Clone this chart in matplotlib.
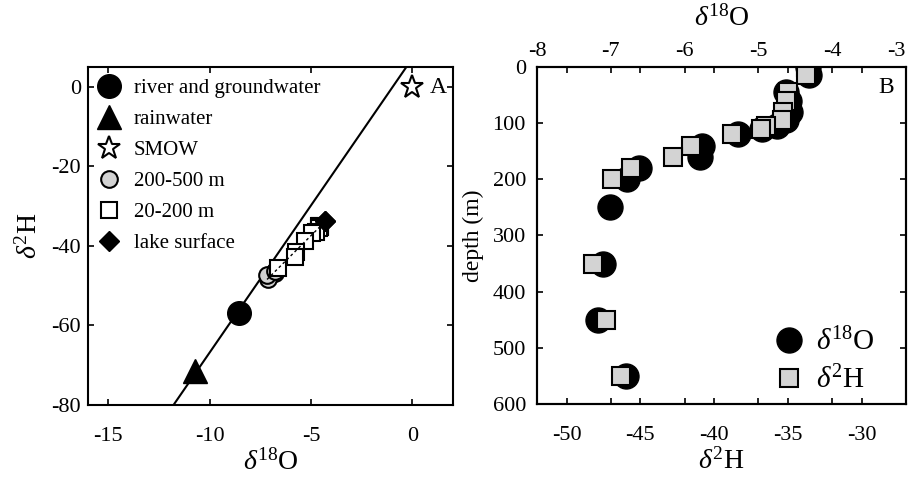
import numpy as np
import matplotlib
matplotlib.use("Agg")
import matplotlib.pyplot as plt
from matplotlib.lines import Line2D

plt.rcParams['font.family'] = ['Liberation Serif', 'DejaVu Serif']
plt.rcParams['mathtext.fontset'] = 'custom'
plt.rcParams['mathtext.rm'] = 'Liberation Serif'
plt.rcParams['mathtext.it'] = 'Liberation Serif:italic'
plt.rcParams['axes.unicode_minus'] = False

# lake profile (depth in m, isotopes in permil)
depth = [0, 15, 45, 60, 80, 95, 105, 110, 120, 140, 160, 180, 200, 250, 350, 450, 550]
d18O = [-4.33, -4.32, -4.62, -4.58, -4.57, -4.62, -4.75, -4.95, -5.28, -5.76, -5.79,
        -6.62, -6.78, -7.01, -7.10, -7.17, -6.79]
d2H = [-33.8, -33.8, -35.0, -35.1, -35.3, -35.4, -36.5, -36.8, -38.8, -41.6, -42.8,
       -45.6, -46.9, np.nan, -48.2, -47.3, -46.3]

# other waters
river_d18O, river_d2H = [-8.56], [-56.8]
rain_d18O, rain_d2H = [-10.7], [-71.4]
smow_d18O, smow_d2H = [0.0], [0.0]

# meteoric water line
lmwl_slope, lmwl_icpt = 7.4, 7.2

depth = np.array(depth)
d18O = np.array(d18O)
d2H = np.array(d2H)

fig = plt.figure(figsize=(9.11, 4.84), dpi=100)
ax1 = fig.add_axes([0.0966, 0.1632, 0.4006, 0.6984])
ax = fig.add_axes([0.5895, 0.1653, 0.4050, 0.6963])

# ---------- panel A ----------
xl = np.array([-16, 2])
ax1.plot(xl, lmwl_slope * xl + lmwl_icpt, 'k-', lw=1.5, zorder=1)

surf = depth < 20
mid = (depth >= 20) & (depth < 200)
deep = depth >= 200

ax1.plot(river_d18O, river_d2H, 'o', color='k', ms=17, label='river and groundwater')
ax1.plot(rain_d18O, rain_d2H, '^', color='k', ms=17, label='rainwater')
ax1.plot(smow_d18O, smow_d2H, '*', mfc='w', mec='k', mew=1.5, ms=17, label='SMOW')
ax1.plot(d18O[deep], d2H[deep], 'o', mfc='#d3d3d3', mec='k', mew=1.5, ms=12, label='200-500 m')
ax1.plot(d18O[mid], d2H[mid], 's', mfc='w', mec='k', mew=1.5, ms=11, label='20-200 m')
ax1.plot(d18O[surf], d2H[surf], 'D', color='k', ms=10, label='lake surface')

ok = ~np.isnan(d2H)
p = np.polyfit(d18O[ok], d2H[ok], 1)
xf = np.array([d18O[ok].min(), d18O[ok].max()])
ax1.plot(xf, np.polyval(p, xf), color='k', ls=(0, (2, 2)), lw=1, zorder=5)

ax1.set_xlim(-16, 2)
ax1.set_ylim(-80, 5)
ax1.set_xticks([-15, -10, -5, 0])
ax1.set_yticks([-80, -60, -40, -20, 0])
ax1.set_xlabel(r'$\delta^{\mathrm{18}}\mathrm{O}$', fontsize=20, labelpad=2)
ax1.set_ylabel(r'$\delta^{\mathrm{2}}\mathrm{H}$', fontsize=20, labelpad=6)
ax1.text(0.959, 0.94, 'A', transform=ax1.transAxes, fontsize=17, ha='center', va='center')
ax1.legend(loc='upper left', bbox_to_anchor=(0.0, 0.99), frameon=False, fontsize=15,
           handletextpad=0.6, labelspacing=0.55, borderaxespad=0.1, handlelength=1.2,
           borderpad=0.3)

# ---------- panel B ----------
ax2 = ax.twiny()
ax2.plot(d18O, depth, 'o', color='k', ms=18)
ax.plot(d2H, depth, 's', mfc='#d3d3d3', mec='k', mew=1.5, ms=13)
ax.set_zorder(ax2.get_zorder() + 1)
ax.patch.set_visible(False)

ax.set_xlim(-52, -27)
ax.set_ylim(600, 0)
ax.set_xticks([-50, -45, -40, -35, -30])
ax.set_yticks([0, 100, 200, 300, 400, 500, 600])
ax2.set_xlim(-8, -3)
ax2.set_xticks([-8, -7, -6, -5, -4, -3])
ax.set_xlabel(r'$\delta^{\mathrm{2}}\mathrm{H}$', fontsize=20, labelpad=2)
ax.set_ylabel('depth (m)', fontsize=17, labelpad=6)
ax2.set_xlabel(r'$\delta^{\mathrm{18}}\mathrm{O}$', fontsize=20, labelpad=12)
ax.text(0.946, 0.94, 'B', transform=ax.transAxes, fontsize=17, ha='center', va='center')

h = [Line2D([], [], ls='', marker='o', color='k', ms=18),
     Line2D([], [], ls='', marker='s', mfc='#d3d3d3', mec='k', mew=1.5, ms=13)]
ax.legend(h, [r'$\delta^{\mathrm{18}}\mathrm{O}$', r'$\delta^{\mathrm{2}}\mathrm{H}$'],
          loc='lower right', bbox_to_anchor=(0.985, -0.05), frameon=False, fontsize=21,
          handletextpad=0.3, labelspacing=0.35, handlelength=1.2)

for a in (ax1, ax, ax2):
    for s in a.spines.values():
        s.set_linewidth(1.5)
    a.tick_params(direction='in', length=4, width=1.2, labelsize=16)
ax1.tick_params(top=True, right=True)
ax1.tick_params(axis='x', pad=16)
ax1.tick_params(axis='y', pad=5)
ax.tick_params(top=True, right=True, labeltop=False)
ax.tick_params(axis='x', pad=16)
ax.tick_params(axis='y', pad=8)
ax2.tick_params(bottom=True, labelbottom=False, top=True, labeltop=True)
ax2.tick_params(axis='x', pad=4)
ax2.get_xticklabels()[-1].set_horizontalalignment('right')

plt.savefig("out.png", dpi=100)
plt.close(fig)
